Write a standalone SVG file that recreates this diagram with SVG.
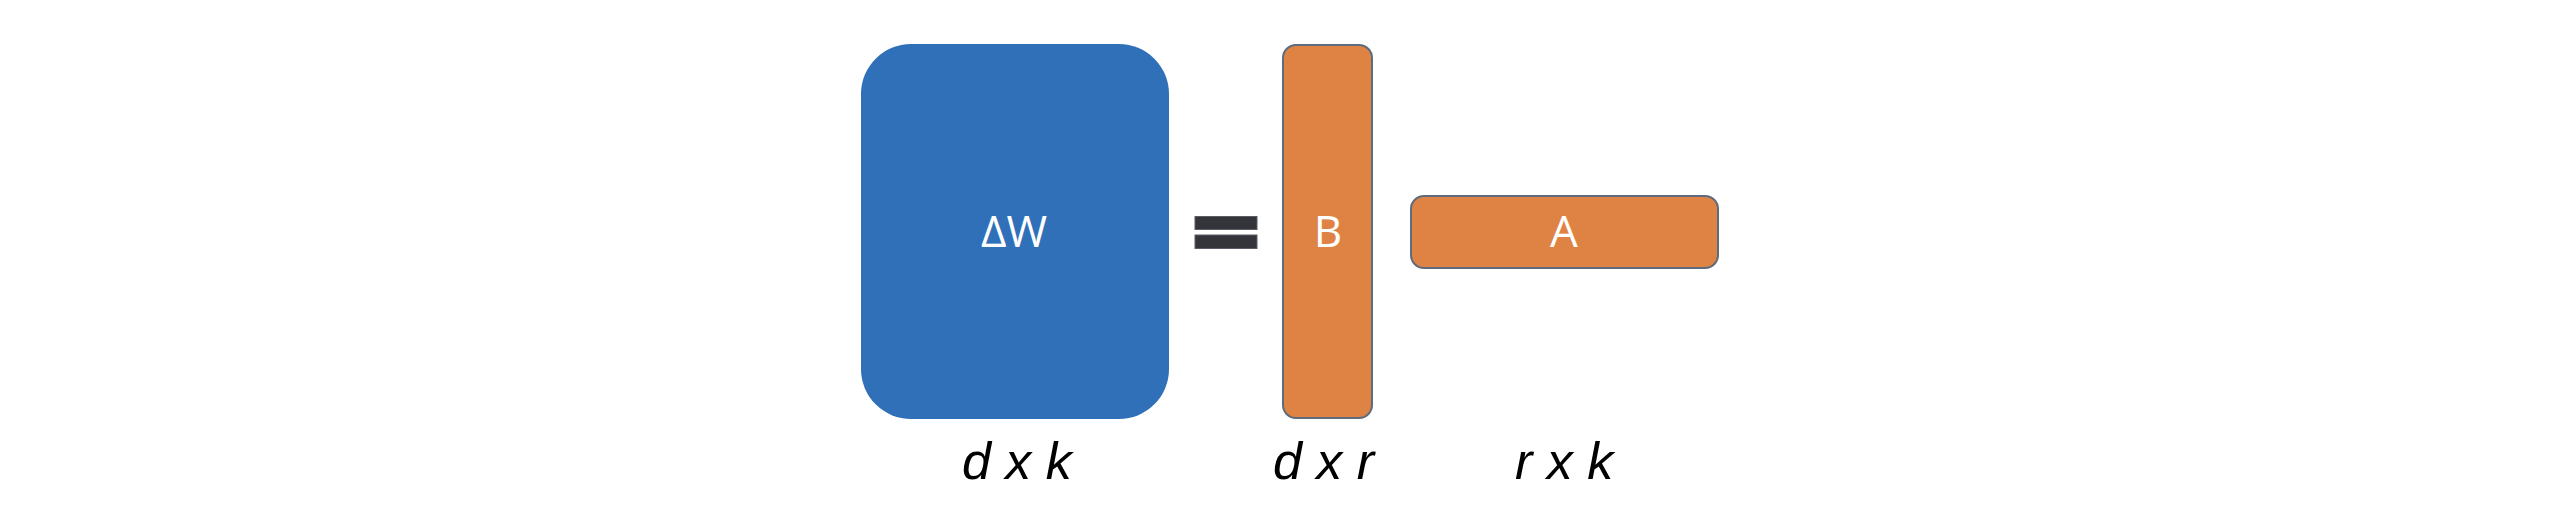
<svg xmlns="http://www.w3.org/2000/svg" width="2574" height="510" viewBox="0 0 2574 510">
<style>
.box-label{font-family:"Open Sans","Noto Sans",sans-serif;font-size:44px;fill:#ffffff;text-anchor:middle}
.dim{font-family:"Liberation Sans",Arial,sans-serif;font-style:italic;font-size:52px;fill:#000000}
.orange{fill:#DF8345;stroke:#5E6B7C;stroke-width:2}
.bar{fill:#34353B;stroke:#5a5d66;stroke-width:1}
</style>
<rect width="2574" height="510" fill="#ffffff"/>
<g id="deltaW">
<rect x="861" y="44" width="308" height="375" rx="50" ry="50" fill="#2F70B8"/>
<text class="box-label" x="1014" y="247">ΔW</text>
</g>
<g id="equals">
<rect class="bar" x="1195" y="216.5" width="62" height="13"/>
<rect class="bar" x="1195" y="235" width="62" height="13.5"/>
</g>
<g id="B">
<rect class="orange" x="1283" y="45" width="89" height="373" rx="13" ry="13"/>
<text class="box-label" x="1328" y="247">B</text>
</g>
<g id="A">
<rect class="orange" x="1411" y="196" width="307" height="72" rx="13" ry="13"/>
<text class="box-label" x="1564" y="247">A</text>
</g>
<g id="labels">
<text class="dim" x="962" y="479">d x k</text>
<text class="dim" x="1273" y="479">d x r</text>
<text class="dim" x="1515" y="479">r x k</text>
</g>
</svg>
